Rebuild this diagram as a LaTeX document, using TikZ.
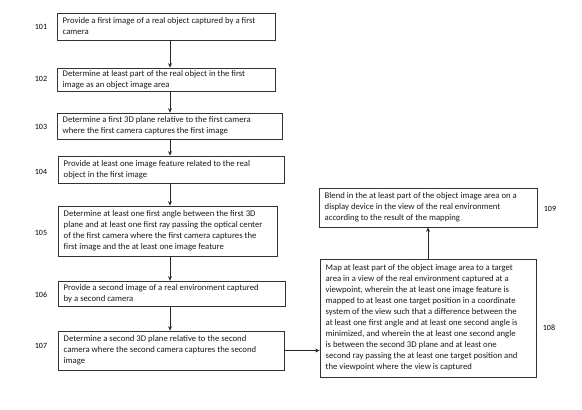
\documentclass[tikz,border=0pt]{standalone}
\usepackage{fontspec}
\setmainfont{Carlito}
\usetikzlibrary{arrows.meta,calc}
\begin{document}
\begin{tikzpicture}[x=1pt,y=-1pt,
  box/.style={draw=black!80, line width=0.6pt, inner sep=0pt, anchor=center},
  boxtext/.style={font=\fontsize{8.7}{11}\selectfont, align=left, anchor=west, inner sep=0pt, text=black!90},
  lbl/.style={font=\fontsize{8}{9}\selectfont, anchor=center},
  conn/.style={draw=black!85, line width=0.9pt, -{Stealth[length=4.5pt,width=3.8pt]}}]
\useasboundingbox (0,0) rectangle (582,410);
% boxes: (l,t)-(r,b)
\newcommand{\mybox}[6]{%
  \node[box, minimum width={#4-#2}, minimum height={#5-#3}] (#1) at ({(#2+#4)/2},{(#3+#5)/2}) {};
  \node[boxtext] at ({#2+5.5},{(#3+#5)/2}) {#6};}
\mybox{b101}{57}{13}{275}{40}{Provide a first image of a real object captured by a first\\camera}
\mybox{b102}{57}{68}{275}{91}{Determine at least part of the real object in the first\\image as an object image area}
\mybox{b103}{57}{113}{282}{139}{Determine a first 3D plane relative to the first camera\\where the first camera captures the first image}
\mybox{b104}{58}{156}{284}{183}{Provide at least one image feature related to the real\\object in the first image}
\mybox{b105}{58}{206}{277}{256}{Determine at least one first angle between the first 3D\\plane and at least one first ray passing the optical center\\of the first camera where the first camera captures the\\first image and the at least one image feature}
\mybox{b106}{58}{281}{285}{306}{Provide a second image of a real environment captured\\by a second camera}
\mybox{b107}{58}{331}{284}{370}{Determine a second 3D plane relative to the second\\camera where the second camera captures the second\\image}
\mybox{b108}{320}{259}{536}{377}{Map at least part of the object image area to a target\\area in a view of the real environment captured at a\\viewpoint, wherein the at least one image feature is\\mapped to at least one target position in a coordinate\\system of the view such that a difference between the\\at least one first angle and at least one second angle is\\minimized, and wherein the at least one second angle\\is between the second 3D plane and at least one\\second ray passing the at least one target position and\\the viewpoint where the view is captured}
\mybox{b109}{319}{188}{537}{227}{Blend in the at least part of the object image area on a\\display device in the view of the real environment\\according to the result of the mapping}
% labels
\node[lbl] (l101) at (41,27) {101};
\node[lbl] (l102) at (41,79) {102};
\node[lbl] (l103) at (41,127) {103};
\node[lbl] (l104) at (41,172) {104};
\node[lbl] (l105) at (41,233) {105};
\node[lbl] (l106) at (41,295) {106};
\node[lbl] (l107) at (41,346) {107};
\node[lbl] (l108) at (549,328) {108};
\node[lbl] (l109) at (550,209) {109};
% connectors
\coordinate (ax) at (170,0);
\draw[conn] (b101.south -| ax) -- (b102.north -| ax);
\draw[conn] (b102.south -| ax) -- (b103.north -| ax);
\draw[conn] (b103.south -| ax) -- (b104.north -| ax);
\draw[conn] (b104.south -| ax) -- (b105.north -| ax);
\draw[conn] (b105.south -| ax) -- (b106.north -| ax);
\draw[conn] (b106.south -| ax) -- (b107.north -| ax);
\draw[conn] (b107.east) -- (b107.east -| b108.west);
\draw[conn] (b108.north) -- (b109.south);
\end{tikzpicture}
\end{document}
